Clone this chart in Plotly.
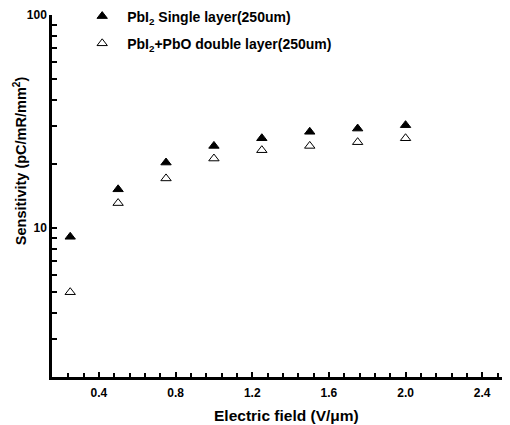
import plotly.graph_objects as go

field = [0.25, 0.5, 0.75, 1.0, 1.25, 1.5, 1.75, 2.0]
single_layer = [9.1, 15.2, 20.3, 24.3, 26.4, 28.3, 29.3, 30.4]
double_layer = [5.0, 13.1, 17.1, 21.2, 23.2, 24.3, 25.3, 26.4]

x_ticks = [0.4, 0.8, 1.2, 1.6, 2.0, 2.4]
x_ticktext = ["<b>0.4</b>", "<b>0.8</b>", "<b>1.2</b>", "<b>1.6</b>", "<b>2.0</b>", "<b>2.4</b>"]
y_ticks = [2, 3, 4, 5, 6, 7, 8, 9, 10, 20, 30, 40, 50, 60, 70, 80, 90, 100]
y_ticktext = ["<b>10</b>" if v == 10 else "<b>100</b>" if v == 100 else "" for v in y_ticks]

FONT = "Liberation Sans"

fig = go.Figure()
fig.add_trace(go.Scatter(
    x=field, y=single_layer, mode="markers",
    name="<b>PbI<sub>2</sub> Single layer(250um)</b>", legendgroup="a",
    marker=dict(symbol="triangle-up", size=9, color="black", line=dict(color="black", width=1)),
))
fig.add_trace(go.Scatter(
    x=field, y=double_layer, mode="markers",
    name="<b>PbI<sub>2</sub>+PbO double layer(250um)</b>", legendgroup="b",
    marker=dict(symbol="triangle-up-open", size=9, color="black", line=dict(width=1)),
))

fig.update_layout(
    width=502, height=417,
    margin=dict(l=44, r=0, t=7, b=48, autoexpand=False),
    paper_bgcolor="white", plot_bgcolor="white",
    font=dict(family=FONT, color="black", size=12),
    showlegend=True,
    legend=dict(x=0.055, y=1.04, xanchor="left", yanchor="top",
                bgcolor="rgba(0,0,0,0)", font=dict(size=14, family=FONT, color="black"),
                tracegroupgap=6, itemwidth=40),
    annotations=[
        dict(text="<b>Sensitivity (pC/mR/mm<sup>2</sup>)</b>", textangle=-90,
             xref="paper", yref="paper", x=-0.0699, y=0.599,
             xanchor="center", yanchor="middle", showarrow=False,
             font=dict(size=14.5, family=FONT, color="black")),
        dict(text="<b>Electric field (V/μm)</b>",
             xref="paper", yref="paper", x=0.511, y=-0.105,
             xanchor="center", yanchor="middle", showarrow=False,
             font=dict(size=15.5, family=FONT, color="black")),
    ],
)
fig.update_xaxes(
    range=[0.155, 2.545],
    tickvals=x_ticks, ticktext=x_ticktext,
    ticks="inside", ticklen=5, tickwidth=1.5, tickcolor="black",
    minor=dict(dtick=0.08, tick0=0, ticks="inside", ticklen=4, tickwidth=1.5, tickcolor="black"),
    showline=True, linewidth=2.5, linecolor="black",
    showgrid=False, zeroline=False,
    tickfont=dict(size=12, family=FONT),
    ticklabelstandoff=3,
)
fig.update_yaxes(
    type="log", range=[0.30103, 2],
    tickvals=y_ticks, ticktext=y_ticktext,
    ticks="inside", ticklen=5, tickwidth=1.5, tickcolor="black",
    showline=True, linewidth=2.5, linecolor="black",
    showgrid=False, zeroline=False,
    tickfont=dict(size=12, family=FONT),
)

fig.write_html("out.html")
